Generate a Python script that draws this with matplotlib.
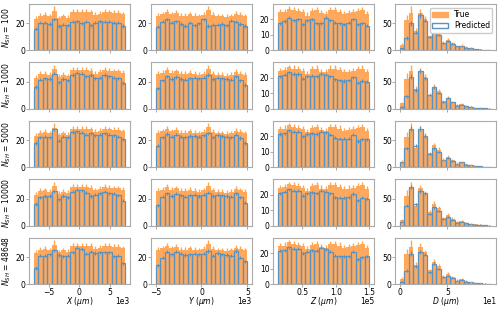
import numpy as np
import matplotlib
matplotlib.use("Agg")
import matplotlib.pyplot as plt
from matplotlib.patches import Patch

# row labels (number of training samples)
n_sh = ["100", "1000", "5000", "10000", "48648"]

# column variables: label, data range, ticks
col_labels = [r"$X$ ($\mu m$)", r"$Y$ ($\mu m$)", r"$Z$ ($\mu m$)", r"$D$ ($\mu m$)"]
col_ranges = [(-7500, 7500), (-5000, 5000), (13000, 150000), (0, 96)]
col_xticks = [[-5000, 0, 5000], [-5000, 0, 5000], [50000, 100000, 150000], [0, 50]]
col_power = [3, 3, 5, 1]
col_fmt = ["%.0f", "%.0f", "%.1f", "%.0f"]
col_yticks = [[0, 20], [0, 20], [0, 10, 20], [0, 50]]

# true histograms (same in every row)
true_x = [23, 25.5, 26, 25, 29, 23.5, 25, 24, 28.5, 28.5, 28.5, 28.5, 28, 26, 27, 28.5, 28, 27.5, 27.5, 26.5]
true_y = [25.5, 26.5, 28.5, 26.5, 27.5, 25.5, 25.5, 26.5, 25.5, 25, 26, 29.5, 26, 25, 25, 24.5, 25, 27, 26, 25]
true_z = [24.5, 25, 27, 26, 25.5, 24.5, 22.5, 25.5, 26, 24, 23.5, 26, 26, 25, 23.5, 24, 24.5, 25.5, 26, 23.5]
true_d = [10, 56, 70, 36, 70, 59, 26, 41, 33, 14, 20, 13, 7, 9, 6, 4, 2.5, 2, 1, 0.5]

true_x_err = [2, 2, 2, 2, 3.5, 2, 2, 2, 2, 2, 2, 2, 2, 2, 2, 2, 2, 2, 2, 2]
true_y_err = [2, 2, 2, 2, 2, 2, 2, 2, 2, 2, 2, 3, 2, 2, 2, 2, 2, 2, 2, 2]
true_z_err = [2, 2, 1.5, 2, 2, 2, 2, 2, 2, 2, 2, 2, 2, 2, 2, 2, 2, 2, 2, 2]
true_d_err = [3, 10, 12, 6, 6, 5, 3, 5, 4, 3, 3, 2.5, 2, 2, 1.5, 1.5, 1, 1, 0.5, 0.5]

# predicted histograms, one list per row
pred_x = [
    [16, 20.5, 20.5, 19.5, 23, 18, 19, 18.5, 21, 21.5, 20, 21, 18.5, 20.5, 21.5, 21, 21, 20.5, 20.5, 18],
    [16, 21.5, 22.5, 22, 26, 19.5, 22, 21, 25, 26.5, 26, 24, 25, 22.5, 23, 25, 24, 23, 22.5, 19],
    [18, 22, 22.5, 22, 28, 19.5, 22.5, 22, 26, 26.5, 25.5, 24, 25, 23.5, 24, 25, 24, 23.5, 22.5, 20.5],
    [16, 21, 22, 22, 25.5, 19.5, 22, 21, 25, 26.5, 26, 24.5, 22, 23, 24, 25, 24, 23.5, 22.5, 18.5],
    [12, 21, 21, 22, 25, 21.5, 20.5, 21, 23.5, 27, 26, 22.5, 24, 23, 23.5, 23.5, 23.5, 20.5, 21, 15.5],
]
pred_y = [
    [17.5, 21, 23, 20.5, 21.5, 19.5, 18, 20.5, 18.5, 20, 23, 18, 19, 19, 19.5, 18.5, 22, 21, 19.5, 18],
    [15, 21, 24, 22, 23.5, 22, 21.5, 22.5, 23, 22.5, 23, 25, 22, 23, 22.5, 22, 21.5, 24, 21, 17.5],
    [16, 22, 24.5, 22.5, 24, 22.5, 22, 23, 23, 22.5, 23.5, 25, 22, 23.5, 23, 22.5, 22, 24, 21.5, 18],
    [15, 21.5, 24, 22, 23.5, 22.5, 21.5, 22.5, 23, 22, 23, 24.5, 22, 23, 22.5, 22, 21.5, 24, 21, 17],
    [14, 19.5, 24, 22, 24, 22.5, 21.5, 22, 22.5, 22, 22.5, 24.5, 21, 23, 22, 21.5, 21, 24.5, 19.5, 17],
]
pred_z = [
    [17.5, 19, 21, 19.5, 20, 17, 19.5, 20, 17.5, 17.5, 21, 19.5, 18, 17.5, 17, 18, 20, 17, 17.5, 16],
    [21, 22, 23.5, 22.5, 22.5, 19.5, 21, 21.5, 21, 22.5, 22, 21, 19, 18.5, 18, 18.5, 20.5, 17, 18, 17.5],
    [21.5, 22, 24, 23, 23, 20, 21.5, 22, 21.5, 23, 22.5, 21, 19, 18.5, 18.5, 18.5, 21, 17, 18, 18],
    [21, 22, 23.5, 22.5, 22.5, 19.5, 21, 21.5, 21, 22.5, 22, 21, 18.5, 18, 18, 18.5, 20.5, 16.5, 18, 17.5],
    [21.5, 22, 24, 23, 23, 20, 21, 22, 21.5, 23.5, 22.5, 21, 18.5, 18, 18, 18, 21, 16, 17.5, 18],
]
pred_d = [
    [4, 23, 50, 33, 65, 55, 25, 35, 28, 14, 17, 12, 8, 8, 5, 4, 2, 1.5, 1, 0.5],
    [4, 23, 60, 35, 70, 57, 25, 40, 30, 13, 20, 12, 6, 8, 5, 4, 2, 1.5, 1, 0.5],
    [9, 35, 72, 40, 72, 58, 25, 35, 28, 13, 17, 12, 6, 9, 5, 4, 2, 2, 1, 0.5],
    [8, 37, 72, 40, 65, 60, 22, 34, 28, 13, 16, 11, 6, 8, 5, 3, 2, 2, 1, 0.5],
    [5, 25, 57, 33, 60, 55, 22, 38, 28, 13, 15, 12, 7, 8, 5, 4, 2, 2, 1, 0.5],
]

pred_x_err = [1.2] * 20
pred_y_err = [1.2] * 20
pred_z_err = [1.0] * 20
pred_d_err = [1, 3, 4, 3, 4, 3, 2, 3, 2, 1.5, 1.5, 1.5, 1, 1, 1, 0.5, 0.5, 0.5, 0.5, 0.5]

true_all = [true_x, true_y, true_z, true_d]
true_err_all = [true_x_err, true_y_err, true_z_err, true_d_err]
pred_all = [pred_x, pred_y, pred_z, pred_d]
pred_err_all = [pred_x_err, pred_y_err, pred_z_err, pred_d_err]

orange = "#ffa95f"
orange_err = "#ffa650"
blue = "#5a92bf"
fs = 5.5

plt.rcParams["font.size"] = fs
plt.rcParams["mathtext.default"] = "it"
fig, axes = plt.subplots(5, 4, figsize=(5.0, 3.09), dpi=100, sharex="col")
fig.subplots_adjust(left=0.058, right=0.992, bottom=0.08, top=0.987, wspace=0.21, hspace=0.26)

for c in range(4):
    lo, hi = col_ranges[c]
    edges = np.linspace(lo, hi, len(true_all[c]) + 1)
    centers = 0.5 * (edges[:-1] + edges[1:])
    width = edges[1] - edges[0]
    for r in range(5):
        ax = axes[r, c]
        ax.bar(edges[:-1], true_all[c], width=width, align="edge", color=orange, linewidth=0)
        ax.errorbar(centers, true_all[c], yerr=true_err_all[c], fmt="none", ecolor=orange_err, elinewidth=1)
        ax.bar(edges[:-1], pred_all[c][r], width=width, align="edge", fill=False,
               edgecolor=blue, linewidth=0.9)
        ax.errorbar(centers, pred_all[c][r], yerr=pred_err_all[c], fmt="none", ecolor=blue, elinewidth=0.8)
        ax.set_yticks(col_yticks[c])
        ax.set_xticks(col_xticks[c])
        # scale tick labels by hand, offset drawn as text at the label level
        scale = 10 ** col_power[c]
        ax.xaxis.set_major_formatter(plt.FuncFormatter(
            lambda v, p, s=scale, f=col_fmt[c]: (f % (v / s)).replace("-", "\u2212")))
        ax.tick_params(length=2, width=0.6, color="#999999", pad=0.5, labelsize=fs)
        for s in ax.spines.values():
            s.set_color("#aaaaaa")
        if c == 0:
            ax.set_ylabel(r"$N_{SH}$ = %s" % n_sh[r], fontsize=fs, labelpad=2)
        if r == 4:
            ax.set_xlabel(col_labels[c], fontsize=fs, labelpad=-1)
            ax.annotate("1e%d" % col_power[c], xy=(1, 0), xycoords="axes fraction",
                        xytext=(0, -9.5), textcoords="offset points", ha="right", va="top", fontsize=fs)

axes[0, 3].legend(
    handles=[Patch(facecolor=orange, edgecolor=orange),
             Patch(facecolor="white", edgecolor=blue)],
    labels=["True", "Predicted"], loc="upper right", fontsize=fs,
    handlelength=2, borderpad=0.3, labelspacing=0.3, framealpha=1,
)

fig.savefig("out.png", dpi=100)
